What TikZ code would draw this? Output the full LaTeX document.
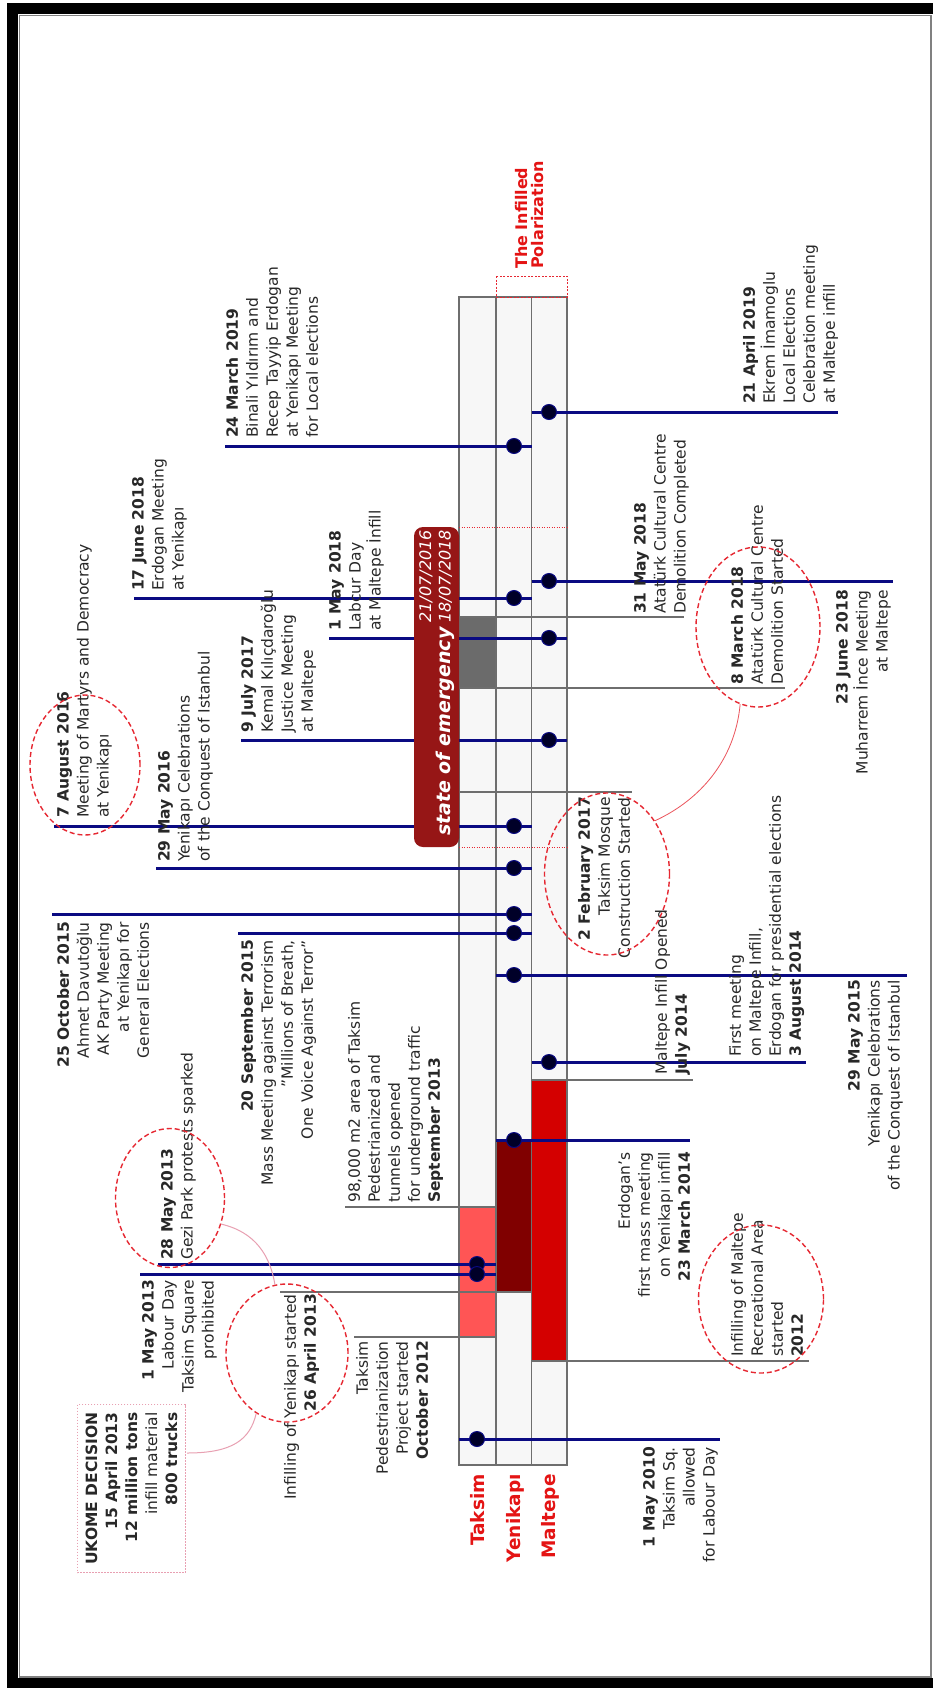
\documentclass[tikz,border=0pt]{standalone}
\usepackage{fontspec}
\setmainfont{DejaVu Sans}
\usetikzlibrary{shapes.geometric}

\definecolor{navyline}{RGB}{10,10,130}
\definecolor{dotfill}{RGB}{0,0,40}
\definecolor{lanefill}{RGB}{247,247,247}
\definecolor{laneedge}{RGB}{110,110,110}
\definecolor{greyline}{RGB}{110,110,110}
\definecolor{greyblock}{RGB}{107,107,107}
\definecolor{taksimbar}{RGB}{255,85,85}
\definecolor{yenibar}{RGB}{128,0,0}
\definecolor{maltbar}{RGB}{212,0,0}
\definecolor{soered}{RGB}{150,22,22}
\definecolor{ovalred}{RGB}{230,40,50}
\definecolor{linkpink}{RGB}{232,160,178}
\definecolor{labelred}{RGB}{228,20,20}
\definecolor{bodytext}{RGB}{40,40,40}

\tikzset{
  evt/.style={rotate=90, inner sep=0pt, text=bodytext, font=\fontsize{15.5}{20}\selectfont},
  evl/.style={evt, anchor=north west, align=left},
  evr/.style={evt, anchor=north east, align=right},
  bl/.style={navyline, line width=3pt},
  gl/.style={greyline, line width=2pt},
  dot/.style={circle, fill=dotfill, draw=navyline, line width=1pt, minimum size=15pt, inner sep=0pt},
  oval/.style={ellipse, draw=ovalred, dash pattern=on 5pt off 3pt, line width=1.4pt, inner sep=0pt},
  link/.style={linkpink, line width=1pt},
  lanelabel/.style={rotate=90, anchor=base east, inner sep=0pt, text=labelred, font=\fontsize{18.5}{20}\selectfont\bfseries},
}

% one meeting: name, y, start x, end x, dot x
\newcommand{\tlevent}[5]{%
  \coordinate (#1a) at (#3,#2);
  \coordinate (#1b) at (#4,#2);
  \draw[bl] (#1a) -- (#1b);
  \node[dot] (#1dot) at (#5,#2) {};
}

\begin{document}
\begin{tikzpicture}[x=1pt, y=-1pt]
\useasboundingbox (0,0) rectangle (933,1688);
\fill[white] (0,0) rectangle (933,1688);

% frame
\fill[black] (7,3) rectangle (933,14);
\fill[black] (7,3) rectangle (18,1688);
\fill[black] (7,1678) rectangle (933,1688);
\draw[gray, line width=1.2pt] (19.5,15.5) -- (931,15.5) -- (931,1677) -- (19.5,1677) -- cycle;

% three site lanes
\foreach \a/\b in {459/496, 496/531.7, 531.7/567}
  \filldraw[fill=lanefill, draw=laneedge, line width=1.5pt] (\a,297) rectangle (\b,1465);

% infill periods
\filldraw[fill=taksimbar, draw=laneedge, line width=1.5pt] (459,1207) rectangle (496,1337);
\filldraw[fill=yenibar, draw=laneedge, line width=1.5pt] (496,1140) rectangle (531.7,1292);
\filldraw[fill=maltbar, draw=laneedge, line width=1.5pt] (531.7,1080) rectangle (567,1361);
\filldraw[fill=greyblock, draw=laneedge, line width=1.5pt] (459,617) rectangle (496,688);

% polarization frame at the top of the lanes
\draw[ovalred, line width=0.8pt, dash pattern=on 2pt off 1.5pt] (496,276) rectangle (567,297);

% grey milestone lines
\coordinate (g1a) at (459,617);  \coordinate (g1b) at (684,617);
\coordinate (g2a) at (459,688);  \coordinate (g2b) at (785,688);
\coordinate (g3a) at (459,792);  \coordinate (g3b) at (632,792);
\coordinate (g4a) at (567,1080); \coordinate (g4b) at (693,1080);
\coordinate (g5a) at (345,1207); \coordinate (g5b) at (496,1207);
\coordinate (g6a) at (280,1292); \coordinate (g6b) at (531.7,1292);
\coordinate (g7a) at (354,1337); \coordinate (g7b) at (496,1337);
\coordinate (g8a) at (567,1361); \coordinate (g8b) at (809,1361);
\foreach \g in {g1,g2,g3,g4,g5,g6,g7,g8}
  \draw[gl] (\g a) -- (\g b);

% state of emergency limits across the lanes
\draw[ovalred, line width=0.8pt, dash pattern=on 1pt off 1.5pt] (459,527) -- (567,527);
\draw[ovalred, line width=0.8pt, dash pattern=on 1pt off 1.5pt] (459,847) -- (567,847);

% meetings
\tlevent{ev19m}{446}{225}{531.7}{514}
\tlevent{ev19a}{412}{531.7}{838}{549}
\tlevent{ev18j}{598}{134}{531.7}{514}
\tlevent{ev18i}{581}{531.7}{893}{549}
\tlevent{ev18m}{638}{329}{567}{549}
\tlevent{ev17}{740}{241}{567}{549}
\tlevent{ev16a}{826}{54}{531.7}{514}
\tlevent{ev16m}{868}{156}{531.7}{514}
\tlevent{ev15o}{914}{52}{531.7}{514}
\tlevent{ev15s}{933}{238}{531.7}{514}
\tlevent{ev15m}{975}{496}{907}{514}
\tlevent{ev14a}{1062}{531.7}{806}{549}
\tlevent{ev14m}{1140}{496}{690}{514}
\tlevent{ev13g}{1264}{158}{496}{477}
\tlevent{ev13l}{1274}{140}{496}{477}
\tlevent{ev10}{1439}{459}{720}{477}

% state of emergency
\node[rotate=90, fill=soered, rounded corners=9pt, minimum width=320pt, minimum height=45pt, inner sep=0pt] (soe) at (436.5,687) {};
\node[rotate=90, anchor=north east, align=right, inner sep=0pt, text=white, font=\fontsize{16}{19.5}\selectfont\itshape] (soetext) at (419,530)
  {21/07/2016\\{\fontsize{19}{19.5}\selectfont\bfseries state of emergency} 18/07/2018};

% upper captions
\node[evl] (t19m) at (226,438) {\textbf{24 March 2019}\\Binali Yıldırım and\\Recep Tayyip Erdogan\\at Yenikapı Meeting\\for Local elections};
\node[evl] (t18j) at (132,591) {\textbf{17 June 2018}\\Erdogan Meeting\\at Yenikapı};
\node[evl] (t18m) at (329,631) {\textbf{1 May 2018}\\Labcur Day\\at Maltepe İnfill};
\node[evl] (t17) at (241,733) {\textbf{9 July 2017}\\Kemal Kılıçdaroğlu\\Justice Meeting\\at Maltepe};
\node[evl] (t16a) at (57,818) {\textbf{7 August 2016}\\Meeting of Martyrs and Democracy\\at Yenikapı};
\node[evl] (t16m) at (158,862) {\textbf{29 May 2016}\\Yenikapı Celebrations\\of the Conquest of Istanbul};
\node[evr] (t15o) at (57,922) {\textbf{25 October 2015}\\Ahmet Davutoğlu\\AK Party Meeting\\at Yenikapı for\\General Elections};
\node[evr] (t15s) at (241,940) {\textbf{20 September 2015}\\Mass Meeting against Terrorism\\"Millions of Breath,\\One Voice Against Terror"};
\node[evl] (t13g) at (161,1260) {\textbf{28 May 2013}\\Gezi Park protests sparked};
\node[evr] (t13l) at (142,1280) {\textbf{1 May 2013}\\Labour Day\\Taksim Square\\prohibited};
\node[evr] (t13a) at (284,1294) {Infilling of Yenikapı started\\\textbf{26 April 2013}};
\node[evl] (t13s) at (348,1203) {98,000 m2 area of Taksim\\Pedestrianized and\\tunnels opened\\for underground traffic\\\textbf{September 2013}};
\node[evr] (t12o) at (356,1341) {Taksim\\Pedestrianization\\Project started\\\textbf{October 2012}};
\node[evr, draw=linkpink, line width=1pt, dash pattern=on 1.5pt off 1.5pt, inner sep=8pt] (ukome) at (77,1404)
  {\textbf{UKOME DECISION}\\\textbf{15 April 2013}\\\textbf{12 million tons}\\infill material\\\textbf{800 trucks}};

% lower captions
\node[evl] (t19a) at (743,404) {\textbf{21 April 2019}\\Ekrem İmamoglu\\Local Elections\\Celebration meeting\\at Maltepe infill};
\node[evr] (t18i) at (836,590) {\textbf{23 June 2018}\\Muharrem İnce Meeting\\at Maltepe};
\node[evl] (t18c) at (634,614) {\textbf{31 May 2018}\\Atatürk Cultural Centre\\Demolition Completed};
\node[evl] (t18s) at (731,685) {\textbf{8 March 2018}\\Atatürk Cultural Centre\\Demolition Started};
\node[evr] (t17f) at (578,797) {\textbf{2 February 2017}\\Taksim Mosque\\Construction Started};
\node[evr] (t15m) at (848,980) {\textbf{29 May 2015}\\Yenikapı Celebrations\\of the Conquest of Istanbul};
\node[evl] (t14a) at (729,1057) {First meeting\\on Maltepe Infill,\\Erdogan for presidential elections\\\textbf{3 August 2014}};
\node[evl] (t14j) at (655,1075) {Maltepe Infill Opened\\\textbf{July 2014}};
\node[evr] (t14m) at (618,1152) {Erdogan's\\first mass meeting\\on Yenikapı infill\\\textbf{23 March 2014}};
\node[evl] (t12m) at (731,1357) {Infilling of Maltepe\\Recreational Area\\started\\\textbf{2012}};
\node[evr] (t10) at (643,1447) {\textbf{1 May 2010}\\Taksim Sq.\\allowed\\for Labour Day};

% lane labels and heading
\node[lanelabel] (lt) at (484,1474) {Taksim};
\node[lanelabel] (ly) at (520,1474) {Yenikapı};
\node[lanelabel] (lm) at (555,1474) {Maltepe};
\node[rotate=90, anchor=north west, align=left, inner sep=0pt, text=labelred, font=\fontsize{16}{16}\selectfont\bfseries] (tip) at (515,269) {The Infilled\\Polarization};

% highlighted events
\node[oval, minimum width=110pt, minimum height=140pt] (o16) at (85,765) {};
\node[oval, minimum width=109pt, minimum height=139pt] (o28) at (170,1198) {};
\node[oval, minimum width=122pt, minimum height=138pt] (o26) at (287,1353) {};
\node[oval, minimum width=125pt, minimum height=148pt] (o12) at (761,1299) {};
\node[oval, minimum width=124pt, minimum height=160pt] (o8m) at (758,627) {};
\node[oval, minimum width=125pt, minimum height=162pt] (o2f) at (607,874) {};

% links between highlighted events
\coordinate (ukl) at (187,1453);
\draw[link] (ukl) .. controls (232,1453) and (250,1440) .. (o26.243);
\draw[link] (o28.-27) .. controls (255,1232) and (270,1255) .. (o26.100);
\draw[ovalred!80, line width=0.8pt] (o2f.48) .. controls (700,800) and (735,760) .. (o8m.257);
\end{tikzpicture}
\end{document}
